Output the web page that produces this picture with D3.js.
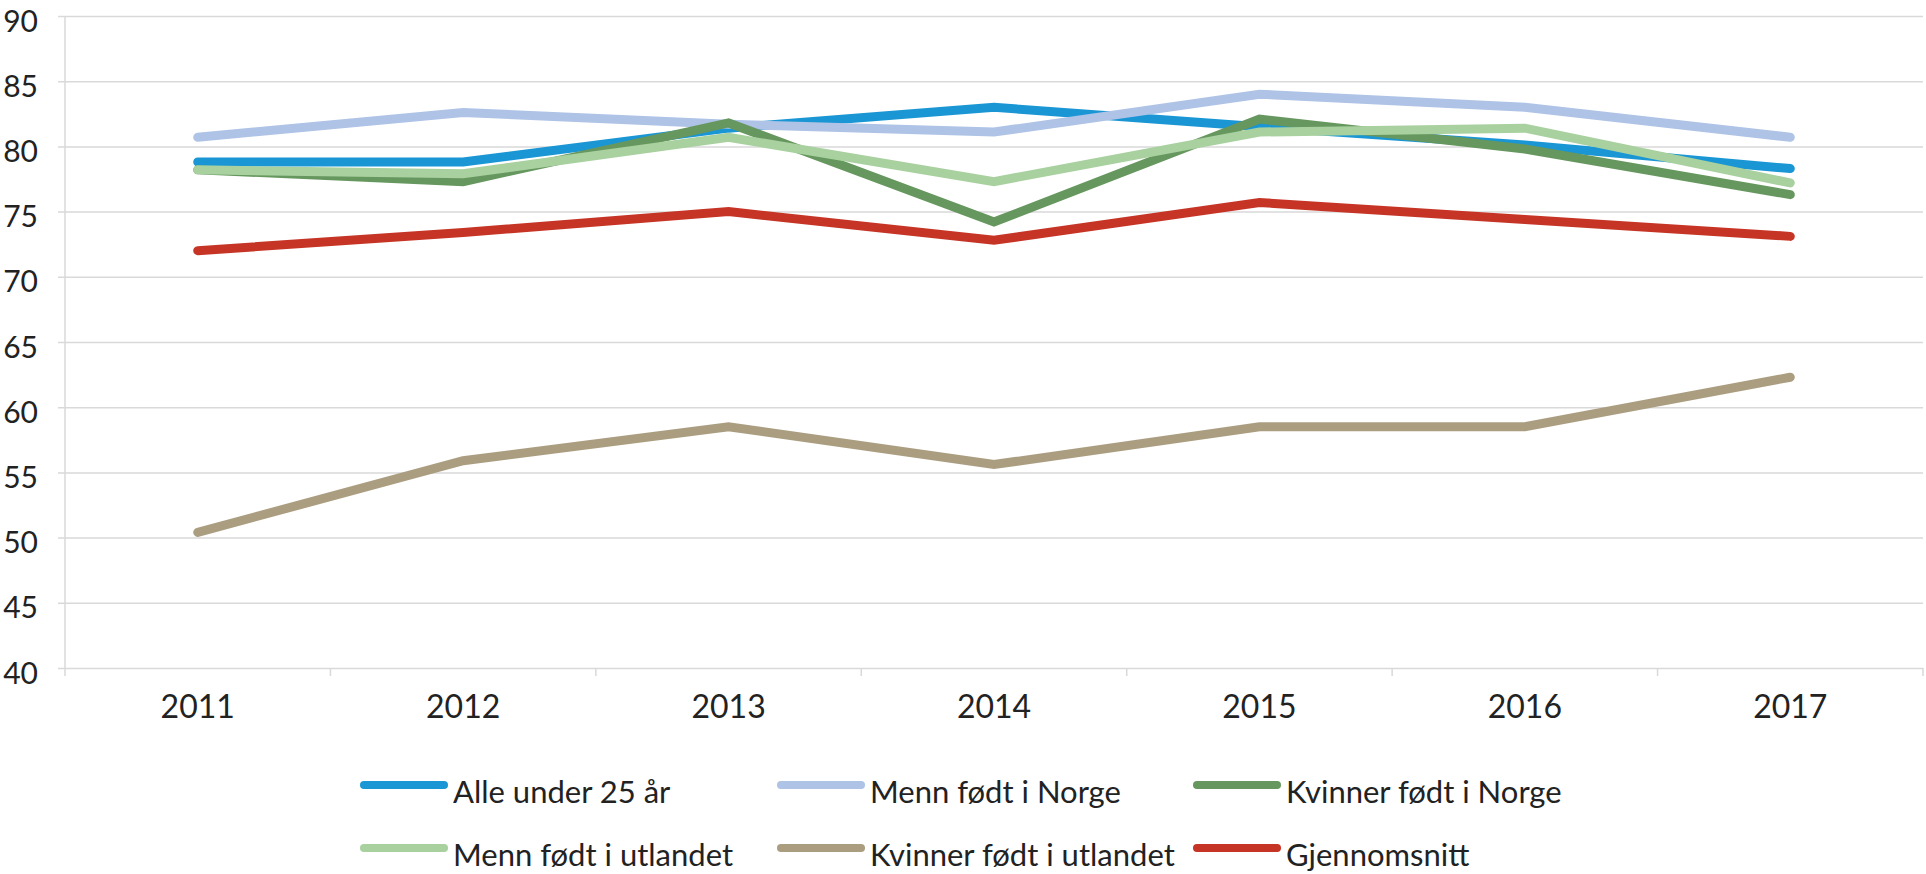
<!DOCTYPE html>
<html>
<head>
<meta charset="utf-8">
<script src="https://cdn.jsdelivr.net/npm/d3@7"></script>
<style>
  body { margin: 0; background: #fff; }
  text { font-family: Lato, "Open Sans", sans-serif; fill: #222; }
</style>
</head>
<body>
<div id="chart"></div>
<script>
const years = [2011, 2012, 2013, 2014, 2015, 2016, 2017];
const yTicks = [40, 45, 50, 55, 60, 65, 70, 75, 80, 85, 90];

const alleUnder25 = [78.8, 78.8, 81.4, 83.0, 81.5, 80.1, 78.3];
const mennNorge = [80.7, 82.6, 81.7, 81.1, 84.0, 83.0, 80.7];
const kvinnerNorge = [78.2, 77.3, 81.8, 74.2, 82.1, 79.8, 76.3];
const mennUtland = [78.2, 77.9, 80.7, 77.3, 81.1, 81.4, 77.2];
const kvinnerUtland = [50.4, 55.9, 58.5, 55.6, 58.5, 58.5, 62.3];
const snitt = [72.0, 73.4, 75.0, 72.8, 75.7, 74.4, 73.1];

const seriesNames = ["Alle under 25 år", "Menn født i Norge", "Kvinner født i Norge",
  "Menn født i utlandet", "Kvinner født i utlandet", "Gjennomsnitt"];
const seriesValues = [alleUnder25, mennNorge, kvinnerNorge, mennUtland, kvinnerUtland, snitt];
const colors = ["#1a96d4", "#aec3e6", "#66975e", "#a8d19f", "#ab9e80", "#c63426"];

const width = 1926, height = 874;
const plotLeft = 65, plotRight = 1923, plotTop = 16, plotBottom = 668;

const svg = d3.select("#chart").append("svg")
  .attr("width", width)
  .attr("height", height);

const x = d3.scaleBand().domain(years).range([plotLeft, plotRight]);
const y = d3.scaleLinear().domain([40, 90]).range([plotBottom, plotTop]);
const cx = d => x(d) + x.bandwidth() / 2;

// horizontal gridlines + y labels
const yAxis = svg.append("g")
  .attr("transform", `translate(${plotLeft - 7},0)`)
  .call(d3.axisLeft(y).tickValues(yTicks).tickSize(-(plotRight - plotLeft + 7)).tickPadding(20));
yAxis.select(".domain").remove();
yAxis.selectAll("line").attr("stroke", "#d9d9d9").attr("stroke-width", 1.5);
yAxis.selectAll("text")
  .attr("font-size", 30)
  .attr("dy", "0.5em")
  .style("font-family", "Lato, sans-serif")
  .attr("fill", "#222");

// vertical axis line
svg.append("line")
  .attr("x1", plotLeft).attr("x2", plotLeft)
  .attr("y1", plotTop).attr("y2", plotBottom)
  .attr("stroke", "#d9d9d9").attr("stroke-width", 1.5);

// x tick marks at category boundaries
svg.selectAll(".xtick")
  .data(years.concat([null]))
  .enter()
  .append("line")
  .attr("class", "xtick")
  .attr("x1", d => d === null ? plotRight : x(d))
  .attr("x2", d => d === null ? plotRight : x(d))
  .attr("y1", plotBottom)
  .attr("y2", plotBottom + 8)
  .attr("stroke", "#d9d9d9").attr("stroke-width", 1.5);

// x labels
const xAxis = svg.append("g")
  .attr("transform", `translate(0,${plotBottom})`)
  .call(d3.axisBottom(x).tickSize(0).tickPadding(27));
xAxis.select(".domain").remove();
xAxis.selectAll("text").attr("font-size", 32).style("font-family", "Lato, sans-serif").attr("fill", "#222");

// lines
const line = d3.line()
  .x((d, i) => cx(years[i]))
  .y(d => y(d));

svg.selectAll(".series")
  .data(seriesValues)
  .enter()
  .append("path")
  .attr("class", "series")
  .attr("d", d => line(d))
  .attr("fill", "none")
  .attr("stroke", (d, i) => colors[i])
  .attr("stroke-width", 9)
  .attr("stroke-linecap", "round")
  .attr("stroke-linejoin", "miter");

// legend
const legendX = [360, 777, 1193];
const legendY = [785, 848];

const legend = svg.selectAll(".legend")
  .data(seriesNames)
  .enter()
  .append("g")
  .attr("class", "legend")
  .attr("transform", (d, i) => `translate(${legendX[i % 3]},${legendY[Math.floor(i / 3)]})`);

legend.append("line")
  .attr("x1", 4).attr("x2", 84)
  .attr("y1", 0).attr("y2", 0)
  .attr("stroke", (d, i) => colors[i])
  .attr("stroke-width", 8)
  .attr("stroke-linecap", "round");

legend.append("text")
  .attr("x", 93)
  .attr("y", 18)
  .attr("font-size", 31)
  .text(d => d);
</script>
</body>
</html>
